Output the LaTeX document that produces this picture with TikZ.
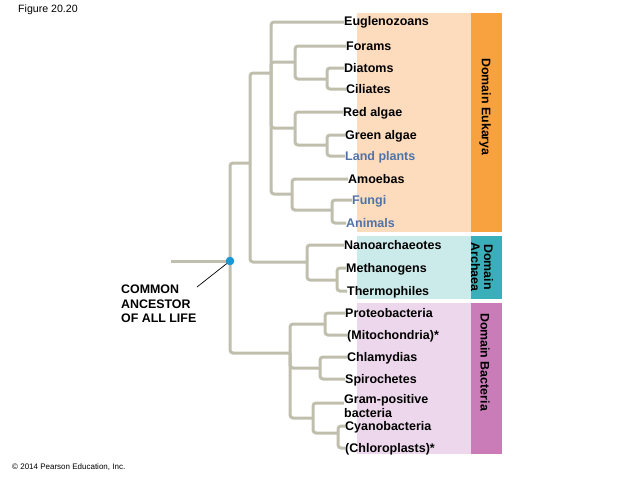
\documentclass[tikz,border=0pt]{standalone}
\usepackage{fontspec}
\setmainfont{Liberation Sans}
\definecolor{treec}{HTML}{C0BEAC}
\definecolor{bluet}{HTML}{4F72A8}
\definecolor{dotc}{HTML}{1B98D4}
\definecolor{eukbg}{HTML}{FDDCBE}
\definecolor{eukbar}{HTML}{F7A23F}
\definecolor{arcbg}{HTML}{CBEBEA}
\definecolor{arcbar}{HTML}{3BAFB9}
\definecolor{bacbg}{HTML}{EDD7EC}
\definecolor{bacbar}{HTML}{C97CB7}
\tikzset{
  branch/.style={draw=treec, line width=3pt, rounded corners=3pt},
  leaf/.style={anchor=west, inner sep=0pt, font=\fontsize{12.5}{14}\selectfont\bfseries, text height=9pt, text depth=1pt},
  bleaf/.style={leaf, text=bluet},
  barlabel/.style={rotate=-90, inner sep=0pt, font=\fontsize{12.4}{13}\selectfont\bfseries, align=center},
}
\begin{document}
\begin{tikzpicture}[x=1pt,y=-1pt]
\useasboundingbox (0,0) rectangle (638,479);
% backgrounds
\fill[eukbg] (357,12.5) rectangle (471,232);
\fill[eukbar] (471,12.5) rectangle (502,232);
\fill[arcbg] (357,236) rectangle (471,299);
\fill[arcbar] (471,236) rectangle (502,299);
\fill[bacbg] (357,303) rectangle (471,454);
\fill[bacbar] (471,303) rectangle (502,454);
\node[barlabel] (deuk) at (485,107) {Domain Eukarya};
\node[barlabel] (darc) at (482,267) {Domain\\Archaea};
\node[barlabel] (dbac) at (485,362) {Domain Bacteria};
% texts
\node[anchor=west, inner sep=0pt, font=\fontsize{10.6}{12}\selectfont] (fig) at (18,10) {Figure 20.20};
\node[anchor=west, inner sep=0pt, font=\fontsize{8}{10}\selectfont] (copy) at (12,467) {© 2014 Pearson Education, Inc.};
\node[anchor=north west, inner sep=0pt, align=left, font=\fontsize{12.4}{14.4}\selectfont\bfseries] (common) at (121,285) {COMMON\\ANCESTOR\\OF ALL LIFE};
% leaf labels
\node[leaf] (eug) at (344,22) {Euglenozoans};
\node[leaf] (for) at (346,46) {Forams};
\node[leaf] (dia) at (344,68) {Diatoms};
\node[leaf] (cil) at (346,89) {Ciliates};
\node[leaf] (red) at (343,112) {Red algae};
\node[leaf] (gre) at (345,135) {Green algae};
\node[bleaf] (lan) at (345,156) {Land plants};
\node[leaf] (amo) at (348,179) {Amoebas};
\node[bleaf] (fun) at (352,200) {Fungi};
\node[bleaf] (ani) at (346,223) {Animals};
\node[leaf] (nan) at (344,245) {Nanoarchaeotes};
\node[leaf] (met) at (346,268) {Methanogens};
\node[leaf] (the) at (347,291) {Thermophiles};
\node[leaf] (pro) at (345,313) {Proteobacteria};
\node[leaf] (mit) at (347,335) {(Mitochondria)*};
\node[leaf] (chl) at (347,357) {Chlamydias};
\node[leaf] (spi) at (345,379) {Spirochetes};
\node[anchor=north west, inner sep=0pt, align=left, font=\fontsize{12.5}{14}\selectfont\bfseries] (gra) at (344,394) {Gram-positive\\bacteria};
\coordinate (graw) at (344,403);
\node[leaf] (cya) at (345,426) {Cyanobacteria};
\node[leaf] (clo) at (345,448) {(Chloroplasts)*};
% internal nodes
\coordinate (R) at (230,261);
\coordinate (stem) at (171,261);
\coordinate (EA) at (250,163);
\coordinate (B) at (290,353);
\coordinate (Euk) at (271,73);
\coordinate (Arc) at (307,262);
\coordinate (ForG) at (295,62);
\coordinate (DiaG) at (327,79);
\coordinate (RedG) at (295,128);
\coordinate (GreG) at (327,145);
\coordinate (AmoG) at (292,194);
\coordinate (FunG) at (332,210);
\coordinate (MetG) at (337,280);
\coordinate (ProG) at (325,324);
\coordinate (ChlG) at (320,368);
\coordinate (GraG) at (313,418);
\coordinate (CyaG) at (338,433);
% branches
\draw[branch] (stem) -- (R);
\draw[branch] (R) |- (EA);
\draw[branch] (R) |- (B);
\draw[branch] (EA) |- (Euk);
\draw[branch] (EA) |- (Arc);
\draw[branch] (Euk) |- (eug.west);
\draw[branch] (Euk) |- (ForG);
\draw[branch] (Euk) |- (RedG);
\draw[branch] (Euk) |- (AmoG);
\draw[branch] (ForG) |- (for.west);
\draw[branch] (ForG) |- (DiaG);
\draw[branch] (DiaG) |- (dia.west);
\draw[branch] (DiaG) |- (cil.west);
\draw[branch] (RedG) |- (red.west);
\draw[branch] (RedG) |- (GreG);
\draw[branch] (GreG) |- (gre.west);
\draw[branch] (GreG) |- (lan.west);
\draw[branch] (AmoG) |- (amo.west);
\draw[branch] (AmoG) |- (FunG);
\draw[branch] (FunG) |- (fun.west);
\draw[branch] (FunG) |- (ani.west);
\draw[branch] (Arc) |- (nan.west);
\draw[branch] (Arc) |- (MetG);
\draw[branch] (MetG) |- (met.west);
\draw[branch] (MetG) |- (the.west);
\draw[branch] (B) |- (ProG);
\draw[branch] (B) |- (ChlG);
\draw[branch] (B) |- (GraG);
\draw[branch] (ProG) |- (pro.west);
\draw[branch] (ProG) |- (mit.west);
\draw[branch] (ChlG) |- (chl.west);
\draw[branch] (ChlG) |- (spi.west);
\draw[branch] (GraG) |- (graw);
\draw[branch] (GraG) |- (CyaG);
\draw[branch] (CyaG) |- (cya.west);
\draw[branch] (CyaG) |- (clo.west);
% ancestor dot and pointer
\coordinate (ptr) at (197,287);
\draw[black, line width=0.7pt] (ptr) -- (R);
\fill[dotc] (R) circle (4.3pt);
\end{tikzpicture}
\end{document}
